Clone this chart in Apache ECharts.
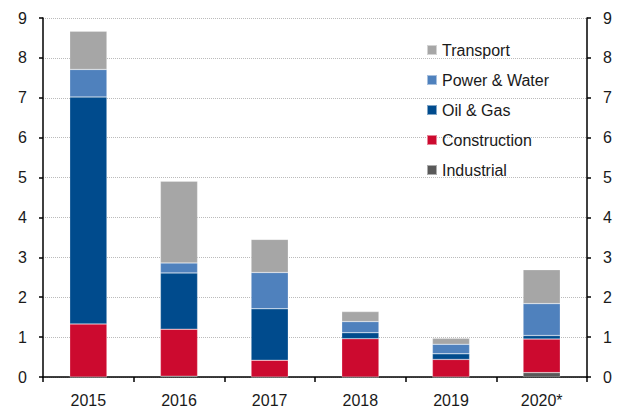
<!DOCTYPE html>
<html>
<head>
    <meta charset="utf-8">
    <script src="https://cdn.jsdelivr.net/npm/echarts@6/dist/echarts.min.js"></script>
    <style>
        body { margin: 0; }
        #chart { width: 621px; height: 408px; }
    </style>
</head>
<body>
    <div id="chart"></div>
    <script>
        let years = ['2015', '2016', '2017', '2018', '2019', '2020*'];
        let industrial   = [0,    0.02, 0,    0,    0,    0.11];
        let construction = [1.33, 1.18, 0.42, 0.96, 0.44, 0.84];
        let oilGas       = [5.69, 1.41, 1.29, 0.15, 0.14, 0.09];
        let powerWater   = [0.69, 0.25, 0.91, 0.28, 0.24, 0.80];
        let transport    = [0.96, 2.05, 0.83, 0.25, 0.15, 0.85];
        let legendOrder = ['Transport', 'Power & Water', 'Oil & Gas', 'Construction', 'Industrial'];

        var font = '"Liberation Sans", Arial, sans-serif';

        function bar(name, data, color) {
            return {
                name: name,
                type: 'bar',
                stack: 'total',
                data: data,
                barWidth: '41%',
                itemStyle: { color: color, borderColor: 'rgba(255,255,255,0.5)', borderWidth: 0.5 }
            };
        }

        var valueAxis = function (pos) {
            return {
                type: 'value',
                position: pos,
                min: 0,
                max: 9,
                interval: 1,
                axisLine: { show: true, lineStyle: { color: '#000', width: 1.5 } },
                axisTick: { show: true, length: 4, lineStyle: { color: '#000', width: 1.5 } },
                axisLabel: { color: '#1a1a1a', fontSize: 16, fontFamily: font, margin: 16 },
                splitLine: { show: pos === 'left', lineStyle: { color: '#bbb', type: 'dotted', width: 1 } }
            };
        };

        var chart = echarts.init(document.getElementById('chart'), null, { renderer: 'svg' });
        var option = {
            animation: false,
            grid: { left: 43, right: 34, top: 18, bottom: 31 },
            legend: {
                orient: 'vertical',
                left: 426,
                top: 42,
                padding: 0,
                itemWidth: 10,
                itemHeight: 10,
                itemGap: 14,
                icon: 'rect',
                data: legendOrder,
                textStyle: { color: '#1a1a1a', fontSize: 16, lineHeight: 16, fontFamily: font }
            },
            xAxis: {
                type: 'category',
                data: years,
                axisLine: { lineStyle: { color: '#000', width: 1.5 } },
                axisTick: { show: true, length: 5, alignWithLabel: false, lineStyle: { color: '#000', width: 1.5 } },
                axisLabel: { color: '#1a1a1a', fontSize: 16, fontFamily: font, margin: 15 }
            },
            yAxis: [valueAxis('left'), valueAxis('right')],
            series: [
                bar('Industrial', industrial, '#595959'),
                bar('Construction', construction, '#cc0a2f'),
                bar('Oil & Gas', oilGas, '#004b8d'),
                bar('Power & Water', powerWater, '#4f81bd'),
                bar('Transport', transport, '#a6a6a6')
            ]
        };
        chart.setOption(option);
    </script>
</body>
</html>
